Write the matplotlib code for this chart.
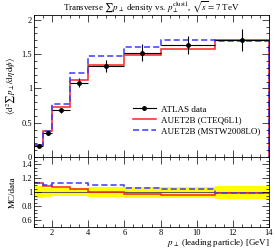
import numpy as np
import matplotlib
matplotlib.use('Agg')
import matplotlib.pyplot as plt
from matplotlib.ticker import MultipleLocator, FormatStrFormatter
from matplotlib.lines import Line2D

# bin edges in leading particle pT [GeV]
edges = [1, 1.5, 2, 3, 4, 6, 8, 11, 14]

# ATLAS data and its uncertainty
data = [0.16, 0.35, 0.68, 1.08, 1.33, 1.52, 1.63, 1.71]
data_err = [0.013, 0.022, 0.04, 0.065, 0.09, 0.12, 0.13, 0.16]

# MC predictions
cteq = [0.18, 0.38, 0.73, 1.13, 1.34, 1.48, 1.57, 1.70]
mstw = [0.18, 0.385, 0.77, 1.22, 1.47, 1.61, 1.71, 1.69]

labels = ['ATLAS data', 'AUET2B (CTEQ6L1)', 'AUET2B (MSTW2008LO)']

plt.rcParams['font.family'] = ['Liberation Serif', 'DejaVu Serif']
plt.rcParams['mathtext.fontset'] = 'stix'

edges = np.array(edges)
data = np.array(data)
data_err = np.array(data_err)
cteq = np.array(cteq)
mstw = np.array(mstw)
centers = 0.5 * (edges[1:] + edges[:-1])
half = 0.5 * (edges[1:] - edges[:-1])

fig = plt.figure(figsize=(2.75, 2.49), dpi=100)
ax = fig.add_axes([0.124, 0.369, 0.854, 0.571])
rax = fig.add_axes([0.124, 0.088, 0.854, 0.281], sharex=ax)

red = '#ff2020'
blue = '#3a3aff'

# main panel
ax.stairs(cteq, edges, color=red, lw=1.1)
ax.stairs(mstw, edges, color=blue, lw=1.1, ls=(0, (4, 2)))
ax.errorbar(centers, data, xerr=half, yerr=data_err, fmt='o', ms=2.5,
            color='black', lw=0.8, capsize=0, zorder=5)

ax.set_xlim(1, 14)
ax.set_ylim(0, 2.07)
ax.yaxis.set_major_locator(MultipleLocator(0.5))
ax.yaxis.set_minor_locator(MultipleLocator(0.1))
ax.yaxis.set_major_formatter(FormatStrFormatter('%g'))
ax.xaxis.set_major_locator(MultipleLocator(2))
ax.xaxis.set_minor_locator(MultipleLocator(0.5))
ax.tick_params(labelbottom=False)
ax.set_ylabel(r'$\langle \mathrm{d}^2 \sum p_\perp / \mathrm{d}\eta\,\mathrm{d}\phi \rangle$',
              fontsize=6.5, labelpad=3)
ax.set_title(r'Transverse $\sum p_\perp$ density vs. $p_\perp^{\mathrm{clust1}}$, $\sqrt{s} = 7$ TeV',
             fontsize=6.5, pad=3)

handles = [Line2D([], [], color='black', marker='o', ms=2.5, lw=0.8),
           Line2D([], [], color=red, lw=1.1),
           Line2D([], [], color=blue, lw=1.1, ls=(0, (4, 2)))]
ax.legend(handles, labels, loc='lower right',
          bbox_to_anchor=(1.0, 0.1), frameon=False, fontsize=6.5,
          handlelength=2.6, handletextpad=0.6, labelspacing=0.25)

# ratio panel
rel = data_err / data
rax.stairs(1 + rel, edges, baseline=1 - rel, fill=True, color='#ffff00', lw=0)
rax.stairs(np.ones(len(data)), edges, baseline=None, color='#555555', lw=0.7)
rax.stairs(cteq / data, edges, baseline=None, color=red, lw=1.1)
rax.stairs(mstw / data, edges, baseline=None, color=blue, lw=1.1, ls=(0, (4, 2)))
rax.set_ylim(0.5, 1.5)
rax.yaxis.set_minor_locator(MultipleLocator(0.05))
rax.set_ylabel('MC/data', fontsize=6.5, labelpad=3)
rax.set_xlabel(r'$p_\perp$ (leading particle) [GeV]', fontsize=6.5, loc='right', labelpad=0)

for a in (ax, rax):
    a.tick_params(which='both', direction='in', top=True, right=True,
                  labelsize=6, width=0.5, pad=1.5)
    a.tick_params(which='major', length=5)
    a.tick_params(which='minor', length=2.5)
    for s in a.spines.values():
        s.set_linewidth(0.6)

# leave out the 1.5 label so it does not collide with the main panel's 0
rax.set_yticks([0.6, 0.8, 1.0, 1.2, 1.4])
rax.yaxis.set_major_formatter(FormatStrFormatter('%g'))

fig.savefig('out.png', dpi=100)
